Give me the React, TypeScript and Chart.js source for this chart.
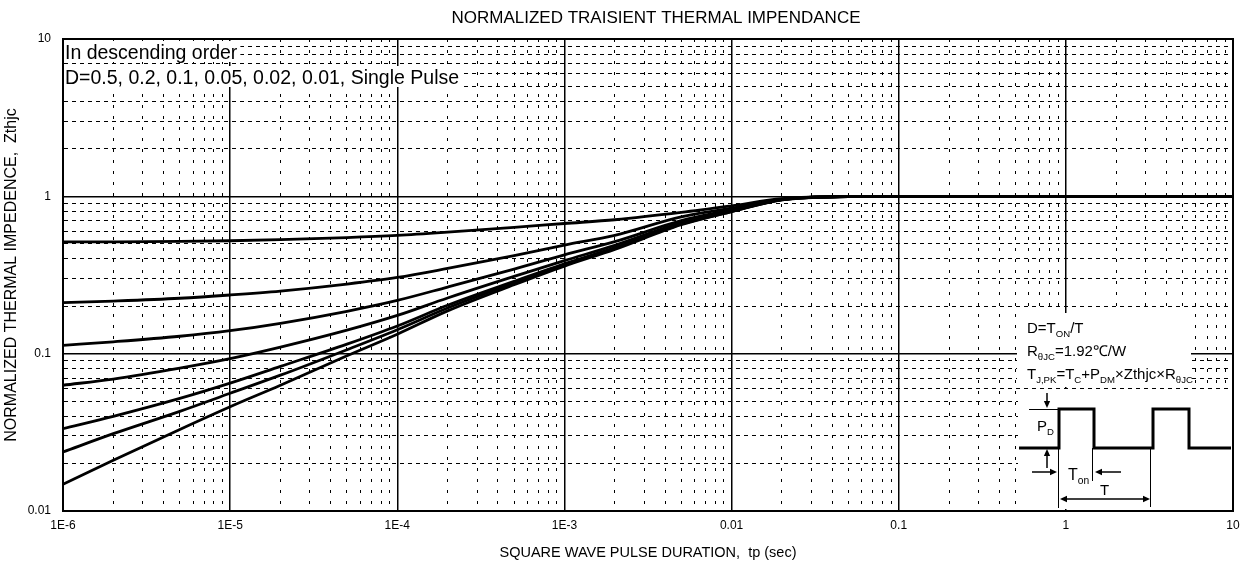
import React, { useEffect, useRef } from "react";
import { Chart, registerables } from "chart.js";

Chart.register(...registerables);

// ---- data ----
const TP = [1e-6, 2e-6, 5e-6, 1e-5, 2e-5, 5e-5, 1e-4, 2e-4, 5e-4, 1e-3, 2e-3, 5e-3, 1e-2, 2e-2, 5e-2, 1e-1, 1, 10];

const Z_D050 = [0.513, 0.514, 0.517, 0.522, 0.53, 0.547, 0.565, 0.592, 0.635, 0.672, 0.71, 0.79, 0.87, 0.965, 0.998, 1, 1, 1];
const Z_D020 = [0.211, 0.216, 0.225, 0.236, 0.25, 0.277, 0.305, 0.348, 0.42, 0.49, 0.565, 0.74, 0.84, 0.96, 0.997, 1, 1, 1];
const Z_D010 = [0.113, 0.119, 0.129, 0.14, 0.156, 0.186, 0.218, 0.265, 0.345, 0.425, 0.515, 0.7, 0.82, 0.955, 0.997, 1, 1, 1];
const Z_D005 = [0.063, 0.069, 0.081, 0.093, 0.11, 0.141, 0.175, 0.226, 0.31, 0.39, 0.488, 0.68, 0.81, 0.953, 0.997, 1, 1, 1];
const Z_D002 = [0.0334, 0.04, 0.052, 0.065, 0.083, 0.115, 0.15, 0.203, 0.288, 0.372, 0.472, 0.67, 0.805, 0.952, 0.996, 1, 1, 1];
const Z_D001 = [0.0237, 0.031, 0.043, 0.056, 0.073, 0.106, 0.142, 0.195, 0.281, 0.366, 0.467, 0.665, 0.8, 0.951, 0.996, 1, 1, 1];
const Z_SINGLE = [0.0148, 0.021, 0.033, 0.046, 0.063, 0.097, 0.133, 0.187, 0.274, 0.36, 0.46, 0.66, 0.8, 0.95, 0.996, 1, 1, 1];

const SERIES_NAMES = ["D=0.5", "D=0.2", "D=0.1", "D=0.05", "D=0.02", "D=0.01", "Single Pulse"];
const SERIES_VALUES = [Z_D050, Z_D020, Z_D010, Z_D005, Z_D002, Z_D001, Z_SINGLE];

const X_DECADES = [1e-6, 1e-5, 1e-4, 1e-3, 1e-2, 1e-1, 1, 10];
const X_DECADE_LABELS = ["1E-6", "1E-5", "1E-4", "1E-3", "0.01", "0.1", "1", "10"];
const Y_DECADES = [0.01, 0.1, 1, 10];
const Y_DECADE_LABELS = ["0.01", "0.1", "1", "10"];

const TITLE = "NORMALIZED TRAISIENT THERMAL IMPENDANCE";
const X_TITLE = "SQUARE WAVE PULSE DURATION,  tp (sec)";
const Y_TITLE = "NORMALIZED THERMAL IMPEDENCE,  Zthjc";
const NOTE_LINES = ["In descending order", "D=0.5, 0.2, 0.1, 0.05, 0.02, 0.01, Single Pulse"];

const FONT = '"Liberation Sans", Arial, Helvetica, sans-serif';

function gridTicks(decades: number[]) {
  const out: { value: number; major: boolean }[] = [];
  for (let i = 0; i < decades.length - 1; i++) {
    for (let m = 1; m <= 9; m++) out.push({ value: decades[i] * m, major: m === 1 });
  }
  out.push({ value: decades[decades.length - 1], major: true });
  return out;
}

function labelFor(value: number, decades: number[], labels: string[]) {
  const i = decades.findIndex((d) => Math.abs(Math.log10(d) - Math.log10(value)) < 1e-6);
  return i >= 0 ? labels[i] : "";
}

type Seg = { t: string; sub?: boolean };

function drawRich(ctx: CanvasRenderingContext2D, x: number, y: number, segs: Seg[], size: number) {
  let cx = x;
  for (const s of segs) {
    const fs = s.sub ? size * 0.64 : size;
    ctx.font = `${fs}px ${FONT}`;
    ctx.fillText(s.t, cx, y + (s.sub ? size * 0.28 : 0));
    cx += ctx.measureText(s.t).width;
  }
}

function arrow(ctx: CanvasRenderingContext2D, x1: number, y1: number, x2: number, y2: number, head = 6) {
  const ang = Math.atan2(y2 - y1, x2 - x1);
  ctx.beginPath();
  ctx.moveTo(x1, y1);
  ctx.lineTo(x2 - Math.cos(ang) * head * 0.8, y2 - Math.sin(ang) * head * 0.8);
  ctx.stroke();
  ctx.beginPath();
  ctx.moveTo(x2, y2);
  ctx.lineTo(x2 - Math.cos(ang) * head - Math.sin(ang) * head * 0.45, y2 - Math.sin(ang) * head + Math.cos(ang) * head * 0.45);
  ctx.lineTo(x2 - Math.cos(ang) * head + Math.sin(ang) * head * 0.45, y2 - Math.sin(ang) * head - Math.cos(ang) * head * 0.45);
  ctx.closePath();
  ctx.fill();
}

const decorPlugin = {
  id: "decor",
  afterDraw(chart: any) {
    const ctx: CanvasRenderingContext2D = chart.ctx;
    const ca = chart.chartArea;
    ctx.save();
    ctx.fillStyle = "#000";
    ctx.strokeStyle = "#000";
    ctx.textBaseline = "alphabetic";
    ctx.textAlign = "left";

    // chart title
    ctx.font = `17px ${FONT}`;
    ctx.textAlign = "center";
    ctx.fillText(TITLE, (ca.left + ca.right) / 2 + 8, ca.top - 16);
    ctx.textAlign = "left";

    // note text at top-left with white backing
    ctx.font = `19.5px ${FONT}`;
    NOTE_LINES.forEach((line, i) => {
      const w = ctx.measureText(line).width;
      const top = ca.top + 2 + i * 25;
      ctx.fillStyle = "#fff";
      ctx.fillRect(ca.left + 1, top, w + 4, 21);
      ctx.fillStyle = "#000";
      ctx.fillText(line, ca.left + 2, top + 18);
    });

    // inset (formula + pulse diagram)
    const R = ca.right;
    const B = ca.bottom;
    ctx.fillStyle = "#fff";
    ctx.fillRect(R - 216, B - 198, 174, 74);
    ctx.fillRect(R - 215, B - 122, 211, 120);
    ctx.fillStyle = "#000";

    const fs = 15;
    drawRich(ctx, R - 206, B - 178, [{ t: "D=T" }, { t: "ON", sub: true }, { t: "/T" }], fs);
    drawRich(ctx, R - 206, B - 155, [{ t: "R" }, { t: "θJC", sub: true }, { t: "=1.92℃/W" }], fs);
    drawRich(
      ctx,
      R - 206,
      B - 132,
      [
        { t: "T" },
        { t: "J,PK", sub: true },
        { t: "=T" },
        { t: "C", sub: true },
        { t: "+P" },
        { t: "DM", sub: true },
        { t: "×Zthjc×R" },
        { t: "θJC", sub: true },
      ],
      fs
    );

    const hi = B - 102;
    const lo = B - 63;
    ctx.lineWidth = 3;
    ctx.lineJoin = "miter";
    ctx.beginPath();
    ctx.moveTo(R - 214, lo);
    ctx.lineTo(R - 174, lo);
    ctx.lineTo(R - 174, hi);
    ctx.lineTo(R - 139, hi);
    ctx.lineTo(R - 139, lo);
    ctx.lineTo(R - 80, lo);
    ctx.lineTo(R - 80, hi);
    ctx.lineTo(R - 44, hi);
    ctx.lineTo(R - 44, lo);
    ctx.lineTo(R - 2, lo);
    ctx.stroke();

    ctx.lineWidth = 1;
    ctx.beginPath();
    ctx.moveTo(R - 204, hi + 0.5);
    ctx.lineTo(R - 174, hi + 0.5);
    ctx.moveTo(R - 174.5, lo);
    ctx.lineTo(R - 174.5, B - 3);
    ctx.moveTo(R - 140.5, lo);
    ctx.lineTo(R - 140.5, B - 30);
    ctx.moveTo(R - 82.5, lo);
    ctx.lineTo(R - 82.5, B - 4);
    ctx.stroke();

    ctx.lineWidth = 1.5;
    arrow(ctx, R - 186, B - 118, R - 186, B - 103, 7);
    arrow(ctx, R - 186, B - 43, R - 186, B - 62, 7);
    arrow(ctx, R - 201, B - 39, R - 176, B - 39, 7);
    arrow(ctx, R - 112, B - 39, R - 138, B - 39, 7);
    arrow(ctx, R - 128, B - 12, R - 173, B - 12, 7);
    arrow(ctx, R - 128, B - 12, R - 83, B - 12, 7);

    drawRich(ctx, R - 196, B - 80, [{ t: "P" }, { t: "D", sub: true }], fs);
    drawRich(ctx, R - 165, B - 31, [{ t: "T" }, { t: "on", sub: true }], 16);
    drawRich(ctx, R - 133, B - 16, [{ t: "T" }], fs);

    // frame
    ctx.lineWidth = 2;
    ctx.strokeRect(ca.left, ca.top, ca.right - ca.left, ca.bottom - ca.top);
    ctx.restore();
  },
};

export default function App() {
  const ref = useRef<HTMLCanvasElement | null>(null);

  useEffect(() => {
    document.body.style.margin = "0";
    const canvas = ref.current;
    if (!canvas) return;

    const datasets = SERIES_VALUES.map((vals, i) => ({
      label: SERIES_NAMES[i],
      data: TP.map((t, j) => ({ x: t, y: vals[j] })),
      borderColor: "#000",
      backgroundColor: "#000",
      borderWidth: 2.8,
      pointRadius: 0,
      fill: false,
      cubicInterpolationMode: "monotone" as const,
    }));

    const minorDashX = [3, 8];
    const minorDashY = [4, 4];

    const chart = new Chart(canvas, {
      type: "line",
      data: { datasets },
      plugins: [decorPlugin],
      options: {
        animation: false,
        responsive: false,
        maintainAspectRatio: false,
        layout: { padding: { left: 0, top: 39, right: 17, bottom: 0 } },
        plugins: {
          legend: { display: false },
          tooltip: { enabled: false },
          title: { display: false },
        },
        scales: {
          x: {
            type: "logarithmic",
            min: 1e-6,
            max: 10,
            afterBuildTicks: (scale: any) => {
              scale.ticks = gridTicks(X_DECADES);
            },
            afterFit: (scale: any) => {
              scale.height = 57;
              scale.paddingLeft = 0;
              scale.paddingRight = 0;
            },
            ticks: {
              autoSkip: false,
              maxRotation: 0,
              minRotation: 0,
              color: "#000",
              padding: 7,
              font: { family: FONT, size: 12 },
              callback: (v: any) => labelFor(Number(v), X_DECADES, X_DECADE_LABELS),
            },
            grid: {
              drawTicks: false,
              color: "#000",
              lineWidth: (c: any) => (c.tick && c.tick.major ? 1.5 : 1),
            },
            border: {
              display: true,
              color: "#000",
              width: 2,
              dash: (c: any) => (c.tick && !c.tick.major ? minorDashX : []),
            },
            title: {
              display: true,
              text: X_TITLE,
              color: "#000",
              font: { family: FONT, size: 14.5 },
              padding: { top: 0, bottom: 6 },
            },
          },
          y: {
            type: "logarithmic",
            min: 0.01,
            max: 10,
            afterBuildTicks: (scale: any) => {
              scale.ticks = gridTicks(Y_DECADES);
            },
            afterFit: (scale: any) => {
              scale.width = 63;
              scale.paddingTop = 0;
              scale.paddingBottom = 0;
            },
            ticks: {
              autoSkip: false,
              color: "#000",
              padding: 12,
              font: { family: FONT, size: 12 },
              callback: (v: any) => labelFor(Number(v), Y_DECADES, Y_DECADE_LABELS),
            },
            grid: {
              drawTicks: false,
              color: "#000",
              lineWidth: (c: any) => (c.tick && c.tick.major ? 1.5 : 1),
            },
            border: {
              display: true,
              color: "#000",
              width: 2,
              dash: (c: any) => (c.tick && !c.tick.major ? minorDashY : []),
            },
            title: {
              display: true,
              text: Y_TITLE,
              color: "#000",
              font: { family: FONT, size: 16 },
              padding: { top: 2, bottom: 0 },
            },
          },
        },
      } as any,
    });

    return () => chart.destroy();
  }, []);

  return (
    <div style={{ position: "absolute", left: 0, top: 0, width: 1250, height: 568, background: "#fff" }}>
      <canvas ref={ref} width={1250} height={568} style={{ display: "block", width: 1250, height: 568 }} />
    </div>
  );
}
